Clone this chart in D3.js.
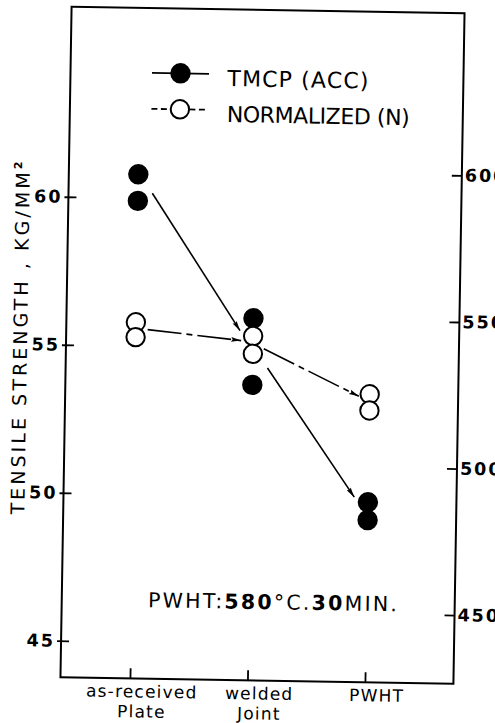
<!DOCTYPE html>
<html>
<head>
<meta charset="utf-8">
<script src="https://cdn.jsdelivr.net/npm/d3@7"></script>
<style>
  html, body { margin: 0; padding: 0; background: #fff; }
  svg { display: block; }
  text { font-family: "DejaVu Sans", sans-serif; fill: #000; }
</style>
</head>
<body>
<svg id="chart" width="495" height="723"></svg>
<script>
// ---- data -------------------------------------------------------------
const categories = ["as-received Plate", "welded Joint", "PWHT"];
const categoryLines = [["as-received", "Plate"], ["welded", "Joint"], ["PWHT"]];

// tensile strength, kg/mm², two specimens per condition
const tmcpValues = [[60.8, 59.9], [56.0, 53.75], [49.85, 49.25]];
const normValues = [[55.8, 55.3], [55.4, 54.8], [53.5, 52.95]];

// trend arrows: [categoryIndex, value] -> [categoryIndex, value]
const tmcpTrend = [[[0, 60.9], [1, 54.9]], [[1, 55.05], [2, 49.35]]];
const normTrend = [[[0, 55.6], [1, 55.2]], [[1, 55.15], [2, 53.25]]];

const leftTicks = [45, 50, 55, 60];
const rightTicks = [450, 500, 550, 600];
const legendLabels = ["TMCP (ACC)", "NORMALIZED (N)"];

// ---- layout -----------------------------------------------------------
const frame = { left: 66, right: 459, top: 10, bottom: 680.5 };
const svg = d3.select("#chart");
const root = svg.append("g").attr("transform", "rotate(0.95 262.5 345)");

const x = d3.scalePoint()
  .domain(categories)
  .range([frame.left + 69.5, frame.right - 88.5]);
const yL = d3.scaleLinear().domain([43.77, 66.42]).range([frame.bottom, frame.top]);
const yR = d3.scaleLinear().domain([426.6, 655.3]).range([frame.bottom, frame.top]);

// arrowhead
const defs = svg.append("defs");
defs.append("marker")
  .attr("id", "head")
  .attr("viewBox", "-11 -3 11 6")
  .attr("refX", 0).attr("refY", 0)
  .attr("markerWidth", 11).attr("markerHeight", 6)
  .attr("markerUnits", "userSpaceOnUse")
  .attr("orient", "auto")
  .append("path")
  .attr("d", "M0,0 L-10,-2.4 L-8.5,0 L-10,2.4 Z")
  .attr("fill", "#000");

// ---- frame and axes -----------------------------------------------------
root.append("rect")
  .attr("x", frame.left).attr("y", frame.top)
  .attr("width", frame.right - frame.left)
  .attr("height", frame.bottom - frame.top)
  .attr("fill", "none").attr("stroke", "#000").attr("stroke-width", 2);

const tickFont = sel => sel
  .attr("font-family", "'Liberation Sans', Arial, sans-serif")
  .attr("font-weight", "bold").attr("font-size", 17.5)
  .attr("letter-spacing", 2).attr("fill", "#000");

const leftAxis = root.append("g")
  .attr("transform", `translate(${frame.left},0)`)
  .call(d3.axisLeft(yL).tickValues(leftTicks).tickSizeInner(-8).tickSizeOuter(0).tickPadding(6));
leftAxis.select(".domain").remove();
leftAxis.selectAll(".tick line").attr("x1", -4).attr("stroke", "#000").attr("stroke-width", 1.8);
leftAxis.selectAll(".tick text").call(tickFont);

const rightAxis = root.append("g")
  .attr("transform", `translate(${frame.right},0)`)
  .call(d3.axisRight(yR).tickValues(rightTicks).tickSizeInner(-10).tickSizeOuter(0).tickPadding(3));
rightAxis.select(".domain").remove();
rightAxis.selectAll(".tick line").attr("stroke", "#000").attr("stroke-width", 1.8);
rightAxis.selectAll(".tick text").call(tickFont);

const bottomAxis = root.append("g")
  .attr("transform", `translate(0,${frame.bottom})`)
  .call(d3.axisBottom(x).tickSizeInner(-10).tickSizeOuter(0).tickFormat(""));
bottomAxis.select(".domain").remove();
bottomAxis.selectAll(".tick line").attr("stroke", "#000").attr("stroke-width", 1.8);

// category labels, one or two lines each
const catLabel = root.append("g").selectAll("text")
  .data(categories)
  .join("text")
  .attr("text-anchor", "middle")
  .attr("font-size", 17)
  .attr("letter-spacing", 1.2);
catLabel.each(function (d, i) {
  d3.select(this).selectAll("tspan")
    .data(categoryLines[i])
    .join("tspan")
    .attr("x", x(d) + 12)
    .attr("y", (t, j) => frame.bottom + 19 + j * 20)
    .text(t => t);
});

// y axis title
const yTitle = root.append("text")
  .attr("transform", `translate(27,342) rotate(-90)`)
  .attr("text-anchor", "middle")
  .attr("font-size", 19)
  .attr("textLength", 353)
  .attr("lengthAdjust", "spacing");
yTitle.append("tspan").text("TENSILE  STRENGTH , KG/MM");
yTitle.append("tspan").attr("dy", -8).attr("font-size", 11).attr("font-weight", "bold").text("2");

// ---- trend arrows -------------------------------------------------------
function drawTrend(segments, gap, dash) {
  segments.forEach(([a, b]) => {
    const x0 = x(categories[a[0]]), y0 = yL(a[1]);
    const x1 = x(categories[b[0]]), y1 = yL(b[1]);
    const len = Math.hypot(x1 - x0, y1 - y0);
    const ux = (x1 - x0) / len, uy = (y1 - y0) / len;
    root.append("line")
      .attr("x1", x0 + ux * gap[0]).attr("y1", y0 + uy * gap[0])
      .attr("x2", x1 - ux * gap[1]).attr("y2", y1 - uy * gap[1])
      .attr("stroke", "#000").attr("stroke-width", 1.6)
      .attr("stroke-dasharray", dash)
      .attr("marker-end", "url(#head)");
  });
}
drawTrend(tmcpTrend, [26, 24], null);
drawTrend(normTrend, [12, 12], "34,5,6,5");

// ---- points -------------------------------------------------------------
const tmcpPts = tmcpValues.flatMap((vals, i) => vals.map(v => ({ c: categories[i], v })));
const normPts = normValues.flatMap((vals, i) => vals.map(v => ({ c: categories[i], v })));

root.append("g").selectAll("circle")
  .data(tmcpPts)
  .join("circle")
  .attr("cx", d => x(d.c)).attr("cy", d => yL(d.v))
  .attr("r", 10.2)
  .attr("fill", "#000");

root.append("g").selectAll("circle")
  .data(normPts)
  .join("circle")
  .attr("cx", d => x(d.c)).attr("cy", d => yL(d.v))
  .attr("r", 9.2)
  .attr("fill", "#fff").attr("stroke", "#000").attr("stroke-width", 2);

// ---- legend -------------------------------------------------------------
const legend = root.append("g");
const legendRows = [
  { y: 74.7, filled: true, dash: null, label: legendLabels[0], width: 141 },
  { y: 110.7, filled: false, dash: "6,3.5", label: legendLabels[1], width: 183 }
];
legendRows.forEach(r => {
  legend.append("line")
    .attr("x1", 147.5).attr("x2", 204.5)
    .attr("y1", r.y).attr("y2", r.y)
    .attr("stroke", "#000").attr("stroke-width", 1.8)
    .attr("stroke-dasharray", r.dash);
  legend.append("circle")
    .attr("cx", 176).attr("cy", r.y)
    .attr("r", r.filled ? 10.2 : 9.2)
    .attr("fill", r.filled ? "#000" : "#fff")
    .attr("stroke", r.filled ? null : "#000")
    .attr("stroke-width", 2);
  legend.append("text")
    .attr("x", 223).attr("y", r.y + 12)
    .attr("font-size", 22)
    .attr("textLength", r.width)
    .attr("lengthAdjust", "spacing")
    .text(r.label);
});

// ---- heat-treatment note -------------------------------------------------
const note = root.append("text")
  .attr("x", 152.3).attr("y", 609)
  .attr("font-size", 20.5)
  .attr("textLength", 249)
  .attr("lengthAdjust", "spacing");
[["PWHT:", false], ["580", true], ["°C.", false], ["30", true], ["MIN.", false]]
  .forEach(([t, b]) => note.append("tspan").attr("font-weight", b ? "bold" : "normal").text(t));
</script>
</body>
</html>
